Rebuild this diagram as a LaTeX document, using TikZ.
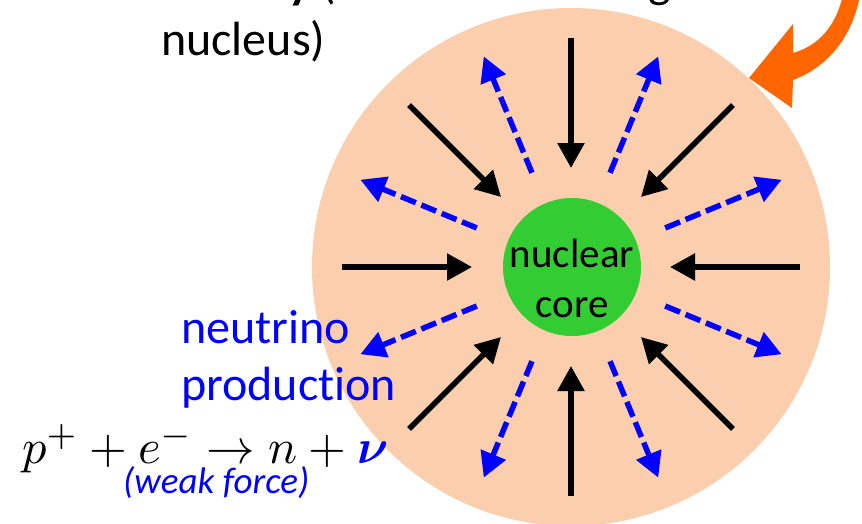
\documentclass[tikz,border=0pt]{standalone}
\usepackage{fontspec}
\setmainfont{Carlito}[Ligatures=NoCommon]
\usepackage{amsmath}
\usepackage{bm}
\usepackage{graphicx}
\usetikzlibrary{arrows.meta}
\definecolor{peach}{RGB}{251,206,174}
\definecolor{coregreen}{RGB}{51,204,51}
\definecolor{arroworange}{RGB}{255,102,0}
\definecolor{nublue}{RGB}{0,0,255}
\tikzset{
  inarrow/.style={draw=black, line width=5.5pt, -{Triangle[length=25pt,width=26pt]}},
  outarrow/.style={draw=nublue, line width=5.5pt, dash pattern=on 16pt off 6pt, -{Triangle[length=25pt,width=26pt]}},
  bigtext/.style={inner sep=0pt, anchor=base west, font=\fontsize{48}{57}\selectfont},
  coretext/.style={inner sep=0pt, anchor=base, font=\fontsize{41}{50}\selectfont}
}
\begin{document}
\begin{tikzpicture}[x=1pt,y=-1pt]
\useasboundingbox (0,0) rectangle (862,523);
\coordinate (c) at (571,267);
% outer shell
\node[circle, fill=peach, minimum size=518pt, inner sep=0pt] (shell) at (c) {};
% orange curved arrow
\fill[arroworange] (843,-5) .. controls (836,25) and (820,45) .. (793,53)
  -- (793,24) -- (749,78) -- (792,108) -- (793,80)
  .. controls (825,68) and (852,40) .. (860,-5) -- cycle;
% core
\node[circle, fill=coregreen, minimum size=138pt, inner sep=0pt] (core) at (572,267) {};
% arrows
\foreach \i in {0,...,7}{
  \pgfmathsetmacro{\a}{45*\i}
  \coordinate (bs\i) at ([shift={(\a:229)}]c);
  \coordinate (be\i) at ([shift={(\a:99)}]c);
  \draw[inarrow] (bs\i) -- (be\i);
  \pgfmathsetmacro{\b}{45*\i+22.5}
  \coordinate (ds\i) at ([shift={(\b:102)}]c);
  \coordinate (de\i) at ([shift={(\b:228)}]c);
  \draw[outarrow] (ds\i) -- (de\i);
}
% core text
\node[coretext] (nucl) at (572,267) {nuclear};
\node[coretext] (corelbl) at (572,317) {core};
% top text fragments (cut off at the top edge, as in the reference)
\begin{scope}
\clip (0,0) rectangle (862,523);
\node[bigtext] (topa) at (288,-2) {\textbf{y} (};
\node[bigtext] (topb) at (648,-3) {g};
\end{scope}
\node[bigtext] (nucleus) at (161,55) {nucleus)};
\node[bigtext, text=nublue] (neut) at (181,343) {neutrino};
\node[bigtext, text=nublue] (prod) at (181,400) {production};
\node[inner sep=0pt, anchor=base west] (eq) at (22,463)
  {\scalebox{4.85}{$p^+ + e^- \to n + {\color{nublue}\bm{\nu}}$}};
\node[inner sep=0pt, anchor=base west, text=nublue, font=\fontsize{37}{44}\selectfont\itshape] (weak) at (123,493) {(weak force)};
\end{tikzpicture}
\end{document}
